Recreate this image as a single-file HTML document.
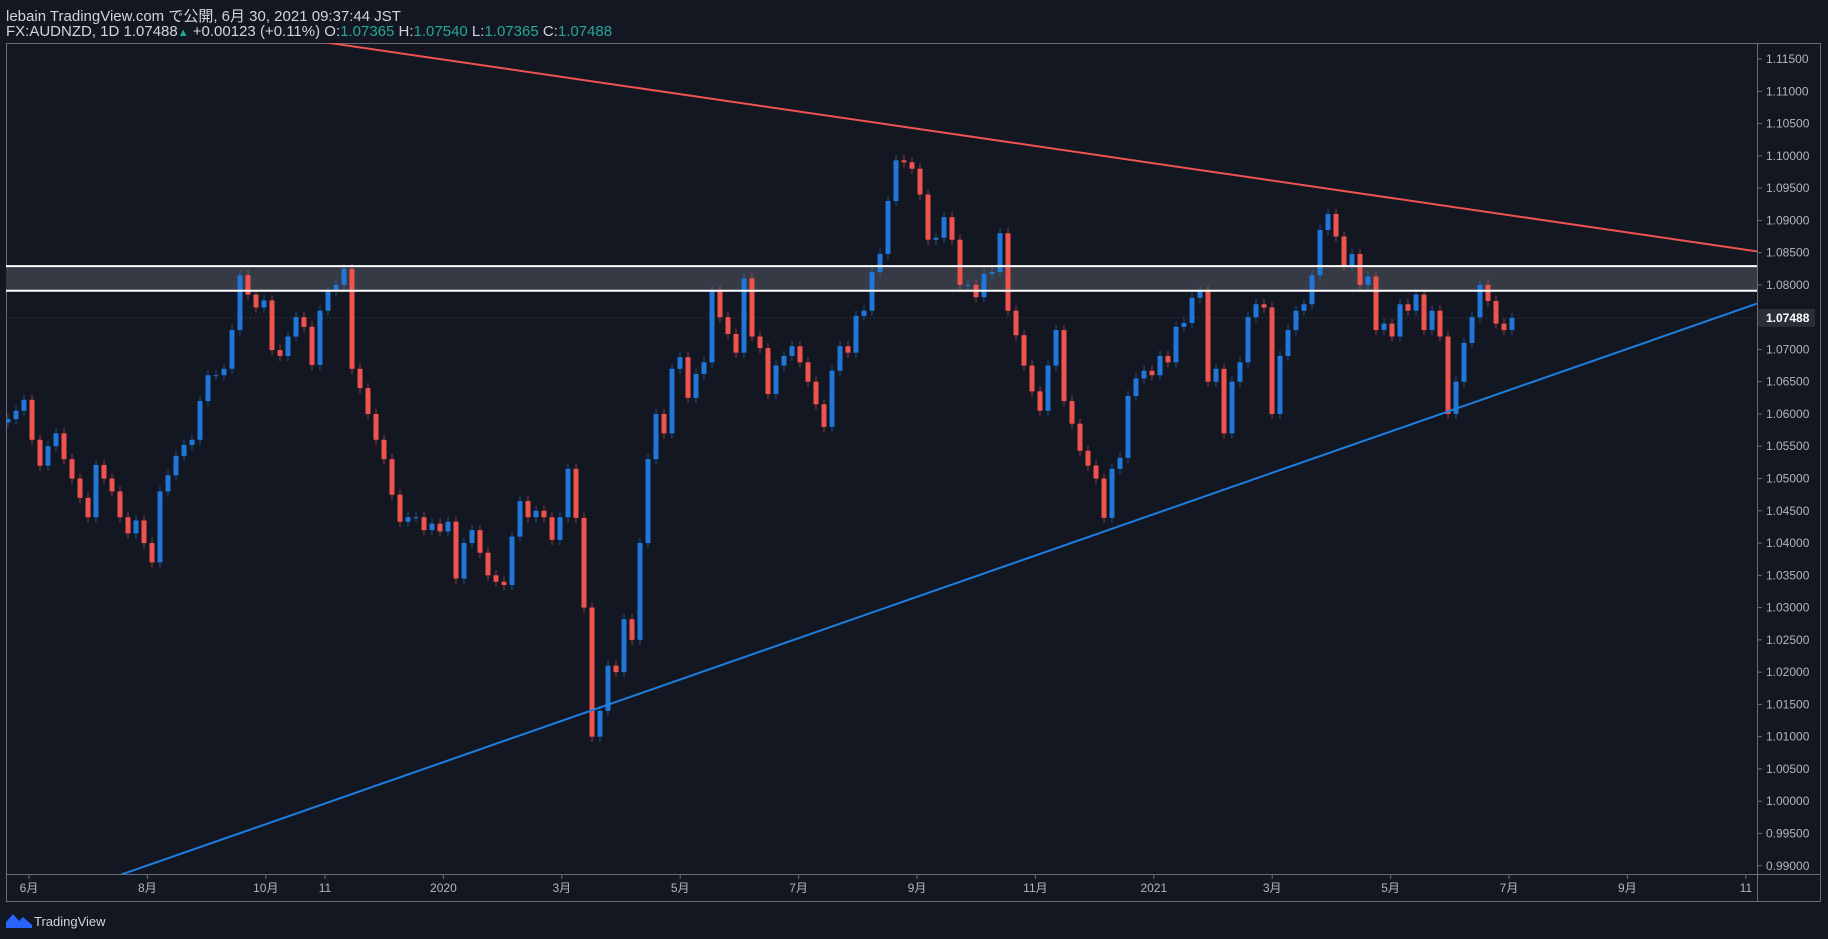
<!DOCTYPE html>
<html><head><meta charset="utf-8"><title>AUDNZD chart</title>
<style>
html,body{margin:0;padding:0;background:#131722;}
body{width:1828px;height:939px;overflow:hidden;position:relative;font-family:"Liberation Sans","Noto Sans CJK JP",sans-serif;}
.hdr{position:absolute;left:6px;color:#d1d4dc;font-size:15px;white-space:nowrap;}
.g{color:#26a69a;}
svg{position:absolute;left:0;top:0;}
</style></head><body>
<div class="hdr" style="top:5px">lebain TradingView.com で公開, 6月 30, 2021 09:37:44 JST</div>
<div class="hdr" style="top:23px">FX:AUDNZD, 1D 1.07488<span class="g" style="font-size:11px">▲</span> +0.00123 (+0.11%) O:<span class="g">1.07365</span> H:<span class="g">1.07540</span> L:<span class="g">1.07365</span> C:<span class="g">1.07488</span></div>
<svg id="chart" width="1828" height="939"></svg>
<script>
const closes=[1.0592,1.0605,1.0622,1.0560,1.0520,1.0550,1.0570,1.0530,1.0500,1.0470,1.0440,1.0521,1.0500,1.0480,1.0440,1.0415,1.0435,1.0400,1.0370,1.0480,1.0505,1.0535,1.0552,1.0560,1.0620,1.0660,1.0660,1.0670,1.0730,1.0815,1.0785,1.0765,1.0776,1.0699,1.0690,1.0720,1.0750,1.0735,1.0676,1.0760,1.0790,1.0800,1.0825,1.0670,1.0640,1.0600,1.0560,1.0530,1.0475,1.0433,1.0440,1.0440,1.0420,1.0430,1.0418,1.0433,1.0345,1.0400,1.0420,1.0385,1.0350,1.0340,1.0335,1.0410,1.0465,1.0440,1.0450,1.0440,1.0405,1.0440,1.0515,1.0439,1.0300,1.0100,1.0140,1.0210,1.0200,1.0282,1.0250,1.0400,1.0530,1.0600,1.0570,1.0670,1.0688,1.0625,1.0662,1.0680,1.0790,1.0750,1.0724,1.0695,1.0810,1.0720,1.0702,1.0631,1.0675,1.0690,1.0705,1.0680,1.0650,1.0615,1.0580,1.0667,1.0705,1.0695,1.0752,1.0760,1.0820,1.0848,1.0930,1.0993,1.0990,1.0980,1.0940,1.0870,1.0873,1.0905,1.0870,1.0800,1.0800,1.0781,1.0817,1.0820,1.0880,1.0760,1.0722,1.0675,1.0635,1.0605,1.0675,1.0730,1.0620,1.0585,1.0543,1.0520,1.0500,1.0439,1.0515,1.0532,1.0628,1.0655,1.0667,1.0660,1.0690,1.0680,1.0735,1.0741,1.0780,1.0790,1.0650,1.0670,1.0570,1.0650,1.0680,1.0750,1.0770,1.0765,1.0600,1.0690,1.0730,1.0760,1.0770,1.0815,1.0885,1.0910,1.0875,1.0830,1.0848,1.0800,1.0813,1.0730,1.0740,1.0720,1.0770,1.0760,1.0785,1.0730,1.0760,1.0720,1.0600,1.0650,1.0710,1.0750,1.0800,1.0775,1.0740,1.0730,1.07488];
const priceTicks=[1.115,1.11,1.105,1.10,1.095,1.09,1.085,1.08,1.075,1.07,1.065,1.06,1.055,1.05,1.045,1.04,1.035,1.03,1.025,1.02,1.015,1.01,1.005,1.00,0.995,0.99];
const timeLabels=["6月","8月","10月","11","2020","3月","5月","7月","9月","11月","2021","3月","5月","7月","9月","11"];
const timeMonths=[0,2,4,5,7,9,11,13,15,17,19,21,23,25,27,29];
const zoneTop=1.0829, zoneBottom=1.0791, lastPrice=1.07488;
const resistance=[[0,1.1198],[37,1.0852]];
const support=[[0,0.9884],[37,1.0771]];

const NS="http://www.w3.org/2000/svg";
const svg=document.getElementById('chart');
const L=6,T=43,R=1757,B=874;
function y(p){return 59+(1.115-p)*6454;}
function xBar(i){return 8+i*8;}
function xMonth(m){return 29+m*59.2;}
function xLine(t){return 117+ (t/37)*(1757-117);}
function el(tag,attrs,parent){const e=document.createElementNS(NS,tag);for(const k in attrs)e.setAttribute(k,attrs[k]);(parent||svg).appendChild(e);return e;}

const clip=el('clipPath',{id:'pc'});el('rect',{x:L,y:T,width:R-L,height:B-T},clip);
// borders
let b=el('rect',{x:L+0.5,y:T+0.5,width:1821-L-1,height:902-T-1,fill:'none',stroke:'#6a6d78','stroke-width':1});


let v=el('line',{x1:R+0.5,y1:T,x2:R+0.5,y2:902,stroke:'#6a6d78'});


let h=el('line',{x1:L,y1:B+0.5,x2:1821,y2:B+0.5,stroke:'#6a6d78'});



const g=el('g',{'clip-path':'url(#pc)'});
// zone
const zone=el('rect',{x:L,y:y(zoneTop),width:R-L,height:y(zoneBottom)-y(zoneTop),fill:'#363a45'},g);


// dotted last price line
const dl=el('line',{x1:L,y1:y(lastPrice),x2:R,y2:y(lastPrice),stroke:'#4a4e5a','stroke-dasharray':'1,3'},g);


// candles
for(let i=0;i<closes.length;i++){
  const c=closes[i],o=i?closes[i-1]:c-0.0005;
  const hi=Math.max(o,c)+0.0008,lo=Math.min(o,c)-0.0008;
  const up=c>=o,col=up?'#2177d8':'#ef5350',x=xBar(i);
  const w=el('line',{x1:x,y1:y(hi),x2:x,y2:y(lo),stroke:col,'stroke-width':1,opacity:0.6},g);
  
  
  const top=y(Math.max(o,c)),bot=y(Math.min(o,c));
  const r=el('rect',{x:x-2.5,y:top,width:5,height:Math.max(1,bot-top),fill:col},g);
  
  
}
// zone borders
[zoneTop,zoneBottom].forEach(p=>{
  const l=el('line',{x1:L,y1:y(p),x2:R,y2:y(p),stroke:'#ffffff','stroke-width':2},g);
  
  
});
const rl=el('line',{x1:xLine(resistance[0][0])+203,y1:y(1.1177),x2:xLine(resistance[1][0]),y2:y(resistance[1][1]),stroke:'#ef5350','stroke-width':2},g);


const sl=el('line',{x1:xLine(support[0][0]),y1:y(support[0][1]),x2:xLine(support[1][0]),y2:y(support[1][1]),stroke:'#1e7fe0','stroke-width':2},g);


// price axis
priceTicks.forEach(p=>{
  if(Math.abs(p-1.075)<1e-9)return;
  const t=el('line',{x1:R,y1:y(p),x2:R+5,y2:y(p),stroke:'#6a6d78'});
  
  
  const tx=el('text',{x:R+9,y:y(p)+4,fill:'#b2b5be','font-size':12,'font-family':'Liberation Sans, sans-serif'});
  tx.textContent=p.toFixed(5);
  
  
});
const lb=el('rect',{x:R+1,y:y(lastPrice)-9,width:57,height:18,fill:'#2a2e39',rx:2});


const lt=el('text',{x:R+9,y:y(lastPrice)+4,fill:'#ffffff','font-size':12,'font-weight':'bold','font-family':'Liberation Sans, sans-serif'});
lt.textContent=lastPrice.toFixed(5);


// time axis
timeLabels.forEach((s,i)=>{
  const x=xMonth(timeMonths[i]);
  const t=el('line',{x1:x,y1:B,x2:x,y2:B+5,stroke:'#6a6d78'});
  
  
  const tx=el('text',{x:x,y:892,fill:'#b2b5be','font-size':12,'text-anchor':'middle','font-family':'Liberation Sans, Noto Sans CJK JP, sans-serif'});
  tx.textContent=s;
  
  
});
// logo
const lg=el('path',{d:'M6 928 L6 922 L13 914 L19 921 L23 917 L32 925 L32 928 Z',fill:'#2962ff'});


const lgt=el('text',{x:34,y:926,fill:'#d1d4dc','font-size':13,'font-family':'Liberation Sans, sans-serif'});
lgt.textContent='TradingView';


</script>
</body></html>
